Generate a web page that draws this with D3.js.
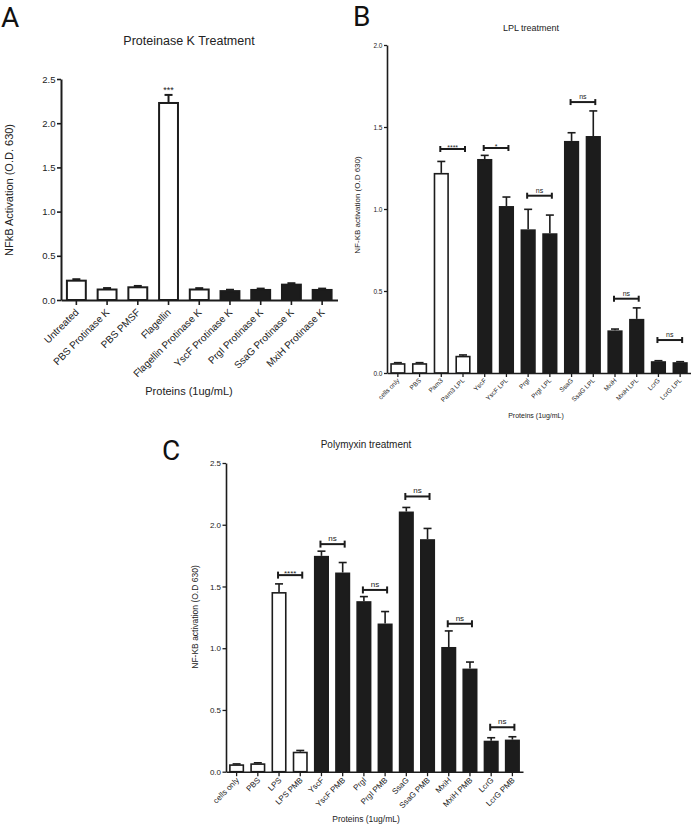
<!DOCTYPE html>
<html>
<head>
<meta charset="utf-8">
<script src="https://cdn.jsdelivr.net/npm/d3@7"></script>
<style>
  html, body { margin: 0; padding: 0; background: #fff; }
  svg { display: block; }
  text { font-family: "Liberation Sans", Arial, sans-serif; fill: #222; }
  .letter { font-family: Roboto, "Open Sans", sans-serif; fill: #111; }
</style>
</head>
<body>
<svg id="chart" width="691" height="824"></svg>
<script>
// ---------------- DATA ----------------
// Panel A: Proteinase K Treatment
const aCategories = ["Untreated", "PBS Protinase K", "PBS PMSF", "Flagellin", "Flagellin Protinase K",
  "YscF Protinase K", "PrgI Protinase K", "SsaG Protinase K", "MxiH Protinase K"];
const aValues = [0.23, 0.13, 0.155, 2.24, 0.13, 0.112, 0.125, 0.185, 0.125];
const aErrors = [0.005, 0.005, 0.004, 0.08, 0.004, 0.004, 0.004, 0.005, 0.004];
const aGroups = ["control", "control", "control", "control", "control", "protein", "protein", "protein", "protein"];
const aTicks = [0, 0.5, 1.0, 1.5, 2.0, 2.5];
const aStars = [{ index: 3, label: "***" }];

// Panel B: LPL treatment
const bCategories = ["cells only", "PBS", "Pam3", "Pam3 LPL", "YscF", "YscF LPL", "PrgI", "PrgI LPL",
  "SsaG", "SsaG LPL", "MxiH", "MxiH LPL", "LcrG", "LcrG LPL"];
const bValues = [0.06, 0.06, 1.22, 0.105, 1.305, 1.018, 0.876, 0.852, 1.415, 1.445, 0.26, 0.33, 0.072, 0.066];
const bErrors = [0.003, 0.003, 0.07, 0.005, 0.022, 0.055, 0.122, 0.111, 0.05, 0.153, 0.008, 0.067, 0.003, 0.003];
const bGroups = ["control", "control", "control", "control", "protein", "protein", "protein", "protein",
  "protein", "protein", "protein", "protein", "protein", "protein"];
const bTicks = [0, 0.5, 1.0, 1.5, 2.0];
const bBrackets = [
  { from: 2, to: 3, level: 1.366, label: "****" },
  { from: 4, to: 5, level: 1.372, label: "*" },
  { from: 6, to: 7, level: 1.081, label: "ns" },
  { from: 8, to: 9, level: 1.652, label: "ns" },
  { from: 10, to: 11, level: 0.453, label: "ns" },
  { from: 12, to: 13, level: 0.201, label: "ns" }
];

// Panel C: Polymyxin treatment
const cCategories = ["cells only", "PBS", "LPS", "LPS PMB", "YscF", "YscF PMB", "PrgI", "PrgI PMB",
  "SsaG", "SsaG PMB", "MxiH", "MxiH PMB", "LcrG", "LcrG PMB"];
const cValues = [0.06, 0.068, 1.455, 0.162, 1.748, 1.613, 1.381, 1.20, 2.107, 1.883, 1.01, 0.835, 0.251, 0.26];
const cErrors = [0.003, 0.004, 0.066, 0.01, 0.038, 0.081, 0.037, 0.097, 0.033, 0.087, 0.13, 0.053, 0.024, 0.023];
const cGroups = bGroups;
const cTicks = [0, 0.5, 1.0, 1.5, 2.0, 2.5];
const cBrackets = [
  { from: 2, to: 3, level: 1.592, label: "****" },
  { from: 4, to: 5, level: 1.843, label: "ns" },
  { from: 6, to: 7, level: 1.472, label: "ns" },
  { from: 8, to: 9, level: 2.229, label: "ns" },
  { from: 10, to: 11, level: 1.198, label: "ns" },
  { from: 12, to: 13, level: 0.36, label: "ns" }
];

// ---------------- DRAWING ----------------
const svg = d3.select("#chart");

function drawPanel(cfg) {
  const g = svg.append("g");
  const x = d3.scaleBand().domain(cfg.categories).range(cfg.xRange)
    .paddingInner(cfg.pad).paddingOuter(cfg.pad / 2);
  const y = d3.scaleLinear().domain([0, cfg.yMax]).range(cfg.yRange);
  const axisY = y(0);
  const data = cfg.categories.map((c, i) => ({ c, v: cfg.values[i], e: cfg.errors[i], grp: cfg.groups[i] }));

  // bars
  g.selectAll("rect.bar").data(data).join("rect")
    .attr("class", "bar")
    .attr("x", d => x(d.c) + cfg.sw / 2)
    .attr("width", x.bandwidth() - cfg.sw)
    .attr("y", d => y(d.v) + cfg.sw / 2)
    .attr("height", d => Math.max(0, axisY - y(d.v) - cfg.sw / 2))
    .attr("fill", d => d.grp === "control" ? "#fff" : "#1c1c1c")
    .attr("stroke", "#1c1c1c")
    .attr("stroke-width", cfg.sw);

  // error bars (upper only)
  const eb = g.selectAll("g.err").data(data).join("g").attr("class", "err");
  eb.append("line")
    .attr("x1", d => x(d.c) + x.bandwidth() / 2).attr("x2", d => x(d.c) + x.bandwidth() / 2)
    .attr("y1", d => y(d.v)).attr("y2", d => y(d.v + d.e))
    .attr("stroke", "#1c1c1c").attr("stroke-width", cfg.ew);
  eb.append("line")
    .attr("x1", d => x(d.c) + x.bandwidth() / 2 - cfg.cap / 2)
    .attr("x2", d => x(d.c) + x.bandwidth() / 2 + cfg.cap / 2)
    .attr("y1", d => y(d.v + d.e)).attr("y2", d => y(d.v + d.e))
    .attr("stroke", "#1c1c1c").attr("stroke-width", cfg.ew);

  // y axis
  const yAxis = d3.axisLeft(y).tickValues(cfg.ticks).tickFormat(d3.format(".1f"))
    .tickSize(cfg.tickLen).tickSizeOuter(0).tickPadding(1.5);
  const ya = g.append("g").attr("transform", `translate(${cfg.xRange[0]},0)`).call(yAxis);
  ya.select(".domain").attr("stroke", "#1c1c1c").attr("stroke-width", cfg.aw);
  ya.selectAll(".tick line").attr("stroke", "#1c1c1c").attr("stroke-width", cfg.aw * 0.8);
  ya.selectAll(".tick text").attr("font-size", cfg.yTickFont).attr("fill", "#222")
    .attr("font-family", "Liberation Sans, Arial, sans-serif");

  // x axis
  const xAxis = d3.axisBottom(x).tickSize(cfg.tickLen + 1).tickSizeOuter(0).tickFormat("");
  const xa = g.append("g").attr("transform", `translate(0,${axisY})`).call(xAxis);
  xa.select(".domain").attr("stroke", "#1c1c1c").attr("stroke-width", cfg.aw);
  xa.selectAll(".tick line").attr("stroke", "#1c1c1c").attr("stroke-width", cfg.aw * 0.8);

  // rotated category labels
  g.selectAll("text.xl").data(cfg.categories).join("text")
    .attr("class", "xl")
    .attr("transform", c => `translate(${x(c) + x.bandwidth() / 2 + cfg.lblDx},${axisY + cfg.lblDy}) rotate(-45)`)
    .attr("text-anchor", "end")
    .attr("font-size", cfg.xTickFont)
    .text(c => c);

  // title
  g.append("text").attr("x", cfg.titleX).attr("y", cfg.titleY).attr("text-anchor", "middle")
    .attr("font-size", cfg.titleFont).text(cfg.title);
  // x label
  g.append("text").attr("x", cfg.xLabelX).attr("y", cfg.xLabelY).attr("text-anchor", "middle")
    .attr("font-size", cfg.xLabelFont).text("Proteins (1ug/mL)");
  // y label
  g.append("text").attr("transform", `translate(${cfg.yLabelX},${cfg.yLabelY}) rotate(-90)`)
    .attr("text-anchor", "middle").attr("font-size", cfg.yLabelFont).text(cfg.yLabel);
  // panel letter
  g.append("text").attr("class", "letter").attr("x", cfg.letterX).attr("y", cfg.letterY)
    .attr("font-size", 28).text(cfg.letter);

  // brackets
  (cfg.brackets || []).forEach(b => {
    const x1 = x(cfg.categories[b.from]) + x.bandwidth() / 2 - 1;
    const x2 = x(cfg.categories[b.to]) + x.bandwidth() / 2 + 2;
    const yy = y(b.level);
    const h = cfg.brH;
    const bg = g.append("g").attr("stroke", "#1c1c1c").attr("stroke-width", cfg.brW);
    bg.append("line").attr("x1", x1).attr("x2", x2).attr("y1", yy).attr("y2", yy);
    bg.append("line").attr("x1", x1).attr("x2", x1).attr("y1", yy - h / 2).attr("y2", yy + h / 2);
    bg.append("line").attr("x1", x2).attr("x2", x2).attr("y1", yy - h / 2).attr("y2", yy + h / 2);
    const star = b.label.startsWith("*");
    g.append("text").attr("x", (x1 + x2) / 2).attr("y", star ? yy + cfg.brFont * 0.15 : yy - 3)
      .attr("text-anchor", "middle").attr("font-size", cfg.brFont).text(b.label);
  });
  (cfg.stars || []).forEach(s => {
    const c = cfg.categories[s.index];
    g.append("text").attr("x", x(c) + x.bandwidth() / 2)
      .attr("y", y(cfg.values[s.index] + cfg.errors[s.index]) - 2)
      .attr("text-anchor", "middle").attr("font-size", cfg.brFont).text(s.label);
  });
}

drawPanel({
  categories: aCategories, values: aValues, errors: aErrors, groups: aGroups, ticks: aTicks,
  stars: aStars, yMax: 2.5, xRange: [61, 337.5], yRange: [300, 79], pad: 0.32,
  sw: 2, ew: 2, cap: 8, aw: 2, tickLen: 4, yTickFont: 9.5, xTickFont: 10, lblDx: 3, lblDy: 13,
  title: "Proteinase K Treatment", titleX: 189, titleY: 45, titleFont: 12.5,
  xLabelX: 189, xLabelY: 395, xLabelFont: 11,
  yLabel: "NFkB Activation (O.D. 630)", yLabelX: 13, yLabelY: 190, yLabelFont: 11,
  letter: "A", letterX: 1, letterY: 27, brFont: 9
});

drawPanel({
  categories: bCategories, values: bValues, errors: bErrors, groups: bGroups, ticks: bTicks,
  brackets: bBrackets, yMax: 2.0, xRange: [387, 691], yRange: [373, 45], pad: 0.3,
  sw: 1.6, ew: 1.6, cap: 8, aw: 1.6, tickLen: 3, yTickFont: 6.5, xTickFont: 6.5, lblDx: 2, lblDy: 8,
  title: "LPL treatment", titleX: 531, titleY: 31, titleFont: 9,
  xLabelX: 536, xLabelY: 418, xLabelFont: 7,
  yLabel: "NF-KB activation (O.D 630)", yLabelX: 360, yLabelY: 205, yLabelFont: 8,
  letter: "B", letterX: 353, letterY: 26, brH: 6, brW: 2, brFont: 7
});

drawPanel({
  categories: cCategories, values: cValues, errors: cErrors, groups: cGroups, ticks: cTicks,
  brackets: cBrackets, yMax: 2.5, xRange: [226, 523], yRange: [771.7, 463], pad: 0.29,
  sw: 1.6, ew: 1.6, cap: 8, aw: 1.6, tickLen: 3.5, yTickFont: 8, xTickFont: 8, lblDx: 3, lblDy: 9,
  title: "Polymyxin treatment", titleX: 366, titleY: 448, titleFont: 10,
  xLabelX: 366, xLabelY: 822, xLabelFont: 8.5,
  yLabel: "NF-KB activation (O.D 630)", yLabelX: 198, yLabelY: 617, yLabelFont: 8.5,
  letter: "C", letterX: 162, letterY: 460, brH: 7, brW: 2, brFont: 8
});
</script>
</body>
</html>
